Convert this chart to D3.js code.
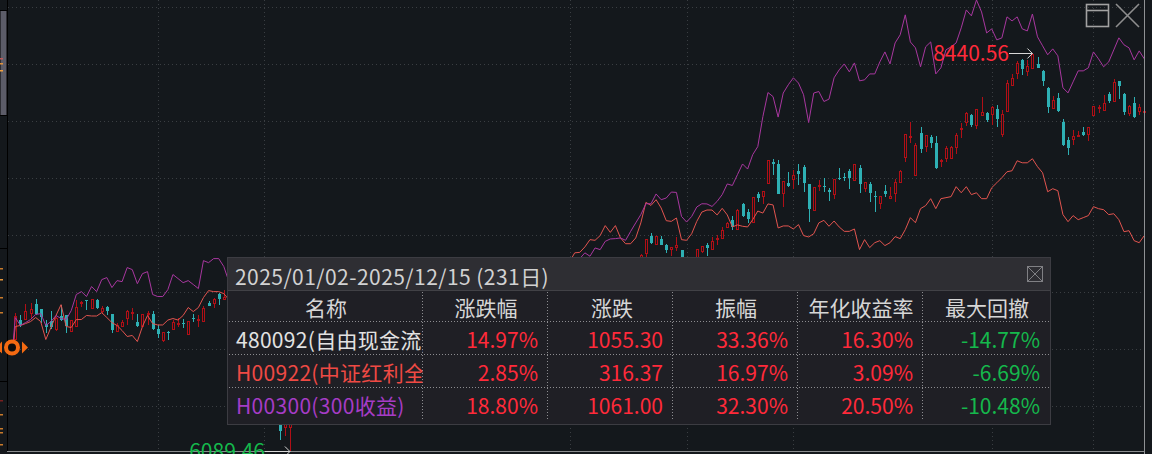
<!DOCTYPE html>
<html lang="zh">

  <head>
    <meta charset="utf-8">
    <title>480092</title>
    <script src="https://cdn.jsdelivr.net/npm/d3@7/dist/d3.min.js"></script>
    <style>
      html, body { margin: 0; padding: 0; background: #14181c; overflow: hidden; }
      svg { display: block; }
      text { font-family: "Noto Sans CJK SC", "Noto Sans", sans-serif; }
    </style>
  </head>

  <body>
    <svg width="1152" height="454" id="mainsvg"></svg>
    <script>
      // the part of each series under the summary panel cannot be read
      const hid = n => Array(n).fill(null);

      const openVals = [6748,6866,6870,6905,6960,6929,6842,6858,6811,6886,6890,6803,6831,6964,6980,6937,6984,6917,6939,6901,6799,6831,6876,6905,6852,6831,6901,6901,6811,6742,6795,6811,6840,6846,6781,6878,6866,6858,6964,6964,7015,6988,
        ...hid(10), 6300,6229,6229, ...hid(68),
        7232,7261,7362,7314,7344,7308,7285,7297,7279,null,null,7238,7273,7308,7285,7344,7350,7415,7456,7403,7550,7503,7444,7609,7598,7674,7798,7786,7615,7674,7698,7745,7769,7668,7515,7657,7657,7633,7609,7704,7710,7745,7692,7763,7645,7668,7598,7556,7627,7586,7615,7680,7828,7946,7722,7969,7893,7946,7910,7804,7822,7822,7887,7993,8034,8076,8016,8076,8087,8081,8111,7963,8099,8253,8323,8400,8335,8353,8376,8335,8235,8117,8176,8034,7928,7934,7952,7975,7963,8076,8117,8105,8199,8158,8276,8199,8087,8146,8099,8093];
      const highVals = [6905,6895,6960,6964,6988,6929,6866,6919,6882,6949,6895,6866,6980,6978,6984,6988,6990,6945,6945,6901,6846,6866,6925,6935,6901,6901,6915,6915,6831,6795,6799,6866,6874,6870,6858,6901,6890,6945,6976,6996,7023,7043,
        ...hid(10), 6330,6330,6320, ...hid(68),
        7255,7344,7380,7362,7362,7314,7297,7356,7279,null,null,7285,7303,7320,7356,7368,7415,7444,7480,7521,7556,7521,7592,7621,7627,7810,7816,7810,7686,7739,7751,7786,7781,7668,7651,7692,7704,7645,7698,7763,7733,7757,7786,7781,7680,7680,7627,7598,7663,7651,7698,7751,7963,8034,7910,8005,7958,7958,7952,7816,7893,7893,7969,8028,8093,8081,8111,8182,8093,8129,8135,8105,8282,8317,8394,8406,8400,8440.56,8418,8341,8241,8188,8205,8052,7946,7987,7981,8005,8005,8129,8135,8194,8211,8288,8276,8205,8135,8182,8140,8105];
      const lowVals = [6748,6823,6866,6870,6890,6846,6787,6811,6797,6860,6787,6791,6827,6939,6925,6929,6929,6901,6890,6787,6795,6823,6831,6866,6823,6831,6836,6803,6758,6736,6744,6803,6823,6815,6777,6854,6823,6854,6945,6937,6949,6980,
        ...hid(10), 6152,6176,6089.46, ...hid(68),
        7220,7226,7314,7314,7308,7261,7244,7273,7232,null,null,7232,7261,7244,7279,7308,7344,7415,7397,7403,7474,7438,7444,7562,7550,7668,7722,7609,7533,7651,7639,7663,7621,7444,7509,7627,7621,7568,7580,7692,7686,7639,7686,7615,7621,7562,7503,7521,7592,7586,7562,7674,7798,7910,7722,7851,7857,7881,7757,7769,7798,7816,7845,7940,8011,8005,7993,8076,8034,8016,8005,7946,8099,8247,8288,8312,8306,8347,8353,8247,8087,8117,8093,7893,7840,7899,7946,7952,7922,8076,8087,8099,8146,8158,8170,8076,8070,8058,8076,8087];
      const closeVals = [6886,6836,6915,6931,6901,6882,6823,6823,6876,6862,6823,6866,6941,6970,6972,6988,6935,6935,6913,6807,6836,6854,6919,6913,6831,6901,6905,6811,6779,6791,6789,6850,6846,6842,6858,6874,6872,6937,6949,6988,6984,6998,
        ...hid(10), 6205,6300,6290, ...hid(68),
        7249,7344,7320,7362,7308,7279,7297,7308,7238,null,null,7285,7303,7291,7332,7350,7397,7438,7415,7515,7480,7462,7592,7586,7627,7810,7786,7609,7686,7657,7722,7727,7674,7521,7651,7663,7651,7621,7698,7698,7704,7704,7786,7668,7680,7615,7592,7598,7609,7598,7680,7745,7963,7952,7899,7875,7958,7910,7763,7810,7881,7887,7958,7999,8087,8016,8111,8093,8046,8123,8052,8081,8264,8294,8382,8347,8365,8435,8353,8276,8123,8164,8099,7899,7881,7952,7958,7958,8005,8129,8123,8146,8158,8270,8247,8093,8129,8064,8123,8099];

      const redLine = [6825,6831,6842,6854,6878,6854,6748,6819,6890,6954,6825,6819,6866,6866,6890,6887,6887,6907,6878,6848,6831,6801,6766,6772,6736,6825,6890,6842,6834,6834,6863,6872,6863,6890,6937,6913,6937,6996,7037,7031,7031,7019,6984,
        ...hid(66),
        7208,7260,7263,7295,7338,7334,7362,7421,7381,7421,7348,7314,7314,7348,7437,7558,7540,7574,7525,7450,7446,7466,7338,7334,7373,7446,7501,7513,7513,7484,7523,7484,7413,7425,7417,7413,7456,7507,7495,7549,7543,7407,7419,7419,7401,7427,7362,7354,7373,7437,7452,7417,7448,7413,7387,7387,7401,7279,
        7338,7291,7320,7332,7303,7320,7356,7344,7397,7468,7438,7521,7539,7580,7521,7580,7586,7592,7651,7615,7651,7604,7615,7580,7580,7645,7674,7704,7739,7745,7804,7792,7792,7816,7769,7733,7621,7639,7627,7486,7444,7480,7456,7468,7480,7533,7521,7515,7486,7491,7456,7385,7391,7332,7320,7362];
      const purpleLine = [6878,6831,6848,6866,6896,6901,6831,6854,6890,6872,6866,6919,7014,7031,7002,7061,7031,7102,7114,7055,7096,7090,7173,7161,7078,7137,7149,7014,7002,7002,7043,7132,7108,7084,7096,7073,7049,7214,7202,7226,7226,7179,7090,
        ...hid(67),
        7202,7226,7260,7240,7289,7279,7328,7342,7344,7348,7334,7387,7437,7486,7550,7550,7608,7574,7584,7619,7617,7475,7442,7475,7531,7550,7549,7534,7564,7604,7667,7658,7722,7785,7755,7840,7888,8065,8207,8183,8062,8204,8253,8294,8263,8194,8030,8204,8213,8154,8168,8294,8341,8376,8329,8382,
        8276,8282,8317,8317,8388,8447,8376,8500,8548,8666,8506,8471,8359,8477,8506,8317,8353,8459,8477,8500,8589,8695,8660,8754,8683,8559,8583,8518,8530,8654,8630,8654,8583,8571,8671,8536,8483,8430,8465,8424,8235,8205,8270,8335,8335,8353,8447,8406,8359,8388,8459,8530,8489,8471,8400,8453,8406];

      const baseValue = 6701;
      const gridValues = [8711, 8375, 8038, 7702, 7366, 7029, 6693, 6357];
      const monthIndex = [28, 49, 109, 132, 153, 192, 212];
      const highIndex = 200;
      const lowIndex = 54;

      const titleText = '2025/01/02-2025/12/15 (231日)';
      const columns = ['名称', '涨跌幅', '涨跌', '振幅', '年化收益率', '最大回撤'];
      const rowNames = ['480092(自由现金流)', 'H00922(中证红利全收益)', 'H00300(300收益)'];
      const rowChange = ['14.97%', '2.85%', '18.80%'];
      const rowPoints = ['1055.30', '316.37', '1061.00'];
      const rowSwing = ['33.36%', '16.97%', '32.30%'];
      const rowAnnual = ['16.30%', '3.09%', '20.50%'];
      const rowDrawdown = ['-14.77%', '-6.69%', '-10.48%'];

      const bg = '#14181c';
      const upColor = '#b10f16';
      const downColor = '#2eb0b4';
      const red = '#ff2a3a';
      const green = '#15b84c';

      const svg = d3.select('#mainsvg');
      const nBars = openVals.length;

      const xScale = d3.scaleLinear().domain([0, 222]).range([15.3, 1144.3]);
      const yScale = d3.scaleLinear().domain([6089.46, 8440.56]).range([451, 53]);

      const bars = d3.range(nBars)
        .filter(i => openVals[i] !== null)
        .map(i => ({ i, o: openVals[i], h: highVals[i], l: lowVals[i], c: closeVals[i] }));

      svg.append('rect').attr('width', 1152).attr('height', 454).attr('fill', bg);

      // 网格
      const grid = svg.append('g').attr('stroke', '#3a3e42').attr('stroke-dasharray', '1 3');
      grid.selectAll('.h').data(gridValues).enter().append('line')
        .attr('x1', 8).attr('x2', 1144)
        .attr('y1', d => Math.round(yScale(d)) + 0.5)
        .attr('y2', d => Math.round(yScale(d)) + 0.5);
      grid.selectAll('.v').data(monthIndex).enter().append('line')
        .attr('y1', 0).attr('y2', 451)
        .attr('x1', d => Math.round(xScale(d)) + 0.5)
        .attr('x2', d => Math.round(xScale(d)) + 0.5);

      // K线
      const candle = svg.append('g').attr('shape-rendering', 'crispEdges')
        .selectAll('g').data(bars).enter().append('g')
        .attr('transform', d => `translate(${Math.round(xScale(d.i))}, 0)`);
      candle.append('line')
        .attr('x1', 0.5).attr('x2', 0.5)
        .attr('y1', d => yScale(d.h)).attr('y2', d => yScale(d.l))
        .attr('stroke', d => d.c >= d.o ? upColor : downColor);
      candle.filter(d => d.c < d.o).append('rect')
        .attr('x', -1).attr('width', 3)
        .attr('y', d => Math.round(yScale(d.o)))
        .attr('height', d => Math.max(1, Math.round(yScale(d.c) - yScale(d.o))))
        .attr('fill', downColor);
      candle.filter(d => d.c >= d.o).append('rect')
        .attr('x', -0.5).attr('width', 2)
        .attr('y', d => Math.round(yScale(d.c)) + 0.5)
        .attr('height', d => Math.max(1, Math.round(yScale(d.o) - yScale(d.c))))
        .attr('fill', bg)
        .attr('stroke', upColor);

      // 对比指数
      const line = d3.line()
        .defined(d => d !== null)
        .x((d, i) => i === 0 ? xScale(-0.5) : xScale(i - 1))
        .y(d => yScale(d));
      svg.append('path').datum([baseValue, ...redLine])
        .attr('d', line).attr('fill', 'none').attr('stroke', '#e2544f').attr('stroke-width', 1);
      svg.append('path').datum([baseValue, ...purpleLine])
        .attr('d', line).attr('fill', 'none').attr('stroke', '#a8379f').attr('stroke-width', 1);

      // 边框
      svg.append('line').attr('x1', 7).attr('x2', 1145).attr('y1', 451.5).attr('y2', 451.5)
        .attr('stroke', '#8a8c8e');
      svg.append('line').attr('x1', 1144.5).attr('x2', 1144.5).attr('y1', 0).attr('y2', 454)
        .attr('stroke', '#8f9194');
      svg.append('rect').attr('x', 7).attr('y', 0).attr('width', 1).attr('height', 451).attr('fill', '#000');
      svg.append('rect').attr('x', 0).attr('y', 10.5).attr('width', 7).attr('height', 105)
        .attr('fill', '#5c5c68').attr('stroke', '#000');
      [248, 381].forEach(y => svg.append('rect').attr('x', 0).attr('y', y).attr('width', 7).attr('height', 1).attr('fill', '#000'));
      [[58, '#c05a5a'], [63, '#e0913a'], [70, '#f0a040'], [268, '#c97a2a'], [279, '#e6963a'], [297, '#c97a2a'], [312, '#c97a2a'],
        [400, '#7a1f1f'], [414, '#c97a2a'], [428, '#c97a2a'], [432, '#c97a2a'], [444, '#c97a2a']].forEach(t => {
        svg.append('rect').attr('x', 0).attr('y', t[0]).attr('width', 3).attr('height', 1.5).attr('fill', t[1]);
      });

      // 最高最低标注
      const labelG = svg.append('g').attr('font-size', 21);
      const hx = xScale(highIndex);
      const hy = Math.round(yScale(highVals[highIndex])) + 0.5;
      labelG.append('text').text('8440.56').attr('x', 1009).attr('y', 61)
        .attr('text-anchor', 'end').attr('fill', red);
      labelG.append('path').attr('d', `M1009,${hy}H${hx}M${hx - 5},${hy - 5}L${hx},${hy}L${hx - 5},${hy + 5}`)
        .attr('fill', 'none').attr('stroke', '#d8d8d8');
      const lx = xScale(lowIndex);
      const ly = Math.round(yScale(lowVals[lowIndex])) + 0.5;
      labelG.append('text').text('6089.46').attr('x', 265).attr('y', 459)
        .attr('text-anchor', 'end').attr('fill', green);
      labelG.append('path').attr('d', `M265,${ly}H${lx}M${lx - 5},${ly - 5}L${lx},${ly}L${lx - 5},${ly + 5}`)
        .attr('fill', 'none').attr('stroke', '#d8d8d8');

      // 窗口按钮
      const icons = svg.append('g').attr('fill', 'none').attr('stroke', '#a2a2a2').attr('stroke-width', 1.6);
      icons.append('rect').attr('x', 1086.5).attr('y', 4.5).attr('width', 22).attr('height', 22);
      icons.append('line').attr('x1', 1086).attr('x2', 1109).attr('y1', 10.5).attr('y2', 10.5);
      icons.append('path').attr('d', 'M1116,4L1139,27M1139,4L1116,27').attr('stroke', '#8e8e8e');

      // 起点标记
      const mx = 12;
      const my = yScale(baseValue);
      svg.append('circle').attr('cx', mx).attr('cy', my).attr('r', 6).attr('fill', '#0c0c0c')
        .attr('stroke', '#f46a12').attr('stroke-width', 4);
      svg.append('path').attr('d', `M${mx + 10},${my - 6}L${mx + 16},${my}L${mx + 10},${my + 6}Z`).attr('fill', '#f46a12');
      svg.append('path').attr('d', `M2,${my - 6}L0,${my - 4}V${my + 4}L2,${my + 6}Z`).attr('fill', '#f46a12');

      // 区间统计面板
      const panel = svg.append('g');
      panel.append('rect').attr('x', 227.5).attr('y', 257.5).attr('width', 823).attr('height', 167)
        .attr('fill', '#1f1f25').attr('stroke', '#3c3c42');
      panel.append('rect').attr('x', 228).attr('y', 258).attr('width', 822).attr('height', 32).attr('fill', '#2e2e33');
      panel.append('rect').attr('x', 228).attr('y', 290).attr('width', 822).attr('height', 1).attr('fill', '#414146');
      panel.append('text').text(titleText).attr('x', 235).attr('y', 285)
        .attr('font-size', 21).attr('letter-spacing', 0.45).attr('fill', '#d2d2d2');

      const sepX = [423, 548, 673, 798, 923];
      const rowLineY = [321, 354, 387];
      const dots = panel.append('g').attr('stroke', '#8c8c90').attr('stroke-dasharray', '1 2');
      dots.selectAll('.s').data(sepX).enter().append('line')
        .attr('x1', d => d - 0.5).attr('x2', d => d - 0.5).attr('y1', 292).attr('y2', 421);
      dots.selectAll('.r').data(rowLineY).enter().append('line')
        .attr('x1', 229).attr('x2', 1049)
        .attr('y1', d => d + 0.5).attr('y2', d => d + 0.5);

      const headX = [326, 486, 612, 736, 861, 987];
      panel.selectAll('.head').data(columns).enter().append('text')
        .text(d => d)
        .attr('x', (d, i) => headX[i]).attr('y', 316)
        .attr('text-anchor', 'middle').attr('font-size', 21).attr('fill', '#d6d6d6');

      svg.append('clipPath').attr('id', 'nameclip').append('rect')
        .attr('x', 230).attr('y', 320).attr('width', 192.5).attr('height', 100);
      const rowY = [348, 381, 414];
      const nameColor = ['#e2e2e2', '#ef4a44', '#a63cc6'];
      panel.append('g').attr('clip-path', 'url(#nameclip)')
        .selectAll('text').data(rowNames).enter().append('text')
        .text(d => d)
        .attr('x', 236).attr('y', (d, i) => rowY[i])
        .attr('font-size', 21).attr('letter-spacing', 0.3).attr('fill', (d, i) => nameColor[i]);

      const valueCols = [rowChange, rowPoints, rowSwing, rowAnnual, rowDrawdown];
      const valueRight = [538, 663, 788, 913, 1040];
      valueCols.forEach((col, c) => {
        panel.selectAll('.c' + c).data(col).enter().append('text')
          .text(d => d)
          .attr('x', valueRight[c]).attr('y', (d, i) => rowY[i])
          .attr('text-anchor', 'end').attr('font-size', 21)
          .attr('fill', d => d[0] === '-' ? green : red);
      });

      const closeBox = panel.append('g').attr('fill', 'none').attr('stroke', '#808084');
      closeBox.append('rect').attr('x', 1027.5).attr('y', 266.5).attr('width', 15).attr('height', 15);
      closeBox.append('path').attr('d', 'M1028,267L1042,281M1042,267L1028,281');
    </script>
  </body>
</html>
